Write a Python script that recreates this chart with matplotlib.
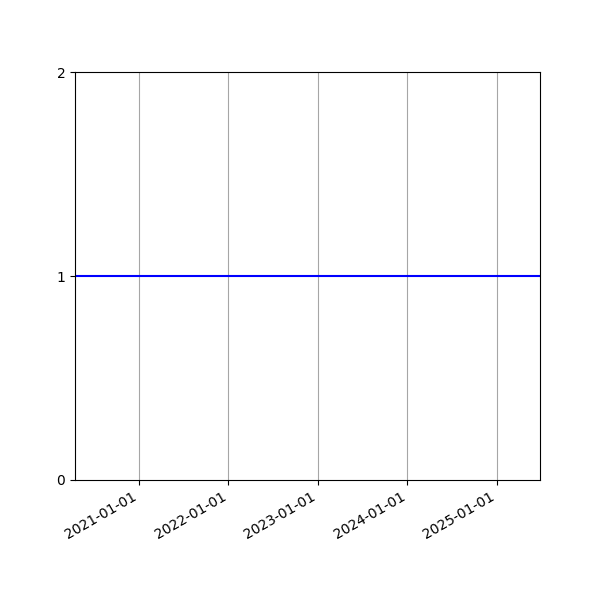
import matplotlib
matplotlib.use('Agg')
import matplotlib.pyplot as plt
import matplotlib.dates as mdates
import numpy as np

# data
dates = np.array(['2020-04-15', '2025-06-25'], dtype='datetime64[D]')
values = [1, 1]
y_ticks = [0, 1, 2]

fig, ax = plt.subplots(figsize=(6, 6), dpi=100)
ax.plot(dates, values, color='blue', linewidth=1.5)
ax.set_xlim(dates[0], dates[-1])
ax.set_ylim(0, 2)
ax.set_yticks(y_ticks)
ax.xaxis.set_major_locator(mdates.YearLocator())
ax.xaxis.set_major_formatter(mdates.DateFormatter('%Y-%m-%d'))
ax.grid(axis='x', color='gray', alpha=0.7, linewidth=0.8)
fig.autofmt_xdate()

plt.savefig('out.png')
